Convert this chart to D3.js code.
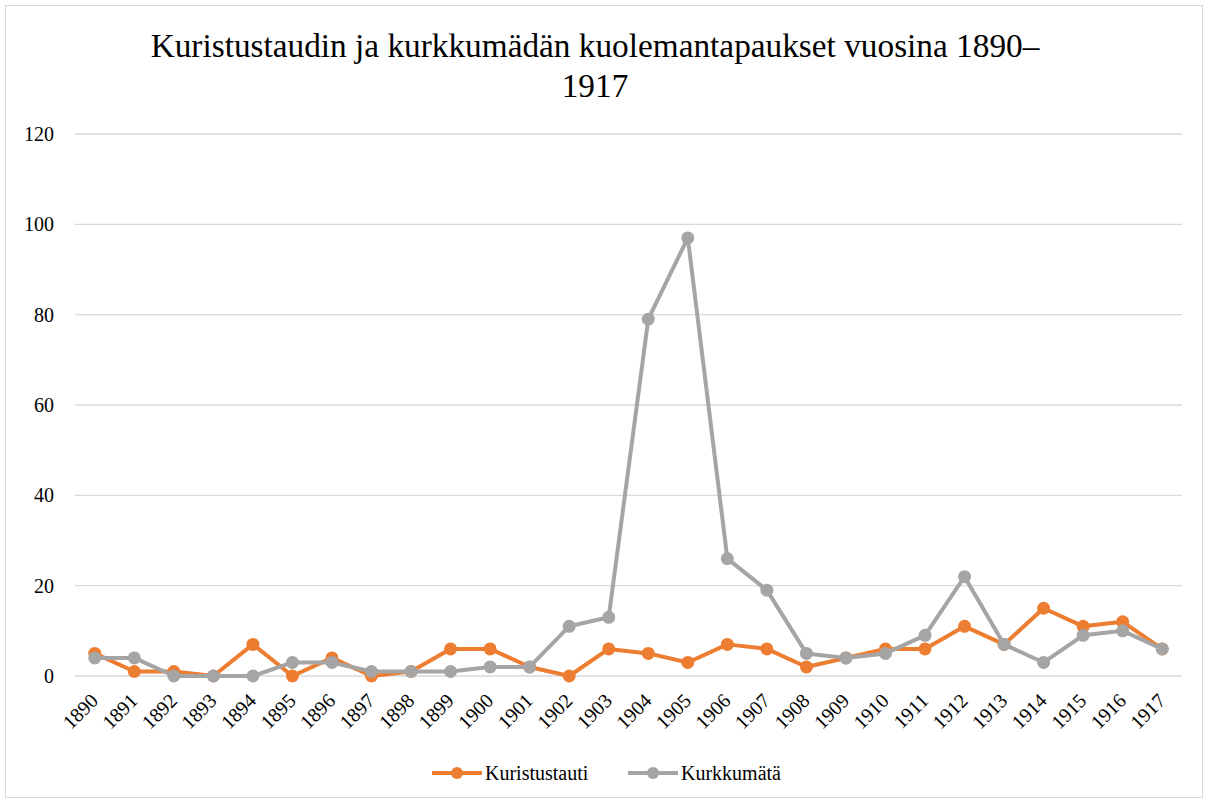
<!DOCTYPE html>
<html>
<head>
<meta charset="utf-8">
<script src="https://cdn.jsdelivr.net/npm/d3@7"></script>
<style>
  body { margin: 0; background: #fff; }
</style>
</head>
<body>
<div id="chart"></div>
<script>
// data
const years = d3.range(1890, 1918).map(String);
const kuristustauti = [5, 1, 1, 0, 7, 0, 4, 0, 1, 6, 6, 2, 0, 6, 5, 3, 7, 6, 2, 4, 6, 6, 11, 7, 15, 11, 12, 6];
const kurkkumata = [4, 4, 0, 0, 0, 3, 3, 1, 1, 1, 2, 2, 11, 13, 79, 97, 26, 19, 5, 4, 5, 9, 22, 7, 3, 9, 10, 6];
const yTicks = [0, 20, 40, 60, 80, 100, 120];

const series = [
  { name: 'Kuristustauti', values: kuristustauti, colour: '#ED7D31' },
  { name: 'Kurkkumätä', values: kurkkumata, colour: '#A5A5A5' }
];

const FONT = 'Liberation Serif';
const width = 1208, height = 803;
const margin = { left: 75, right: 26, top: 134, bottom: 127 };

const svg = d3.select('#chart').append('svg')
  .attr('width', width)
  .attr('height', height)
  .attr('font-family', FONT);

// chart border
svg.append('rect')
  .attr('x', 5.5).attr('y', 5.5)
  .attr('width', width - 11).attr('height', height - 11)
  .attr('fill', 'none')
  .attr('stroke', '#d9d9d9');

// title
const title = ['Kuristustaudin ja kurkkumädän kuolemantapaukset vuosina 1890–', '1917'];
svg.append('g').selectAll('text')
  .data(title)
  .enter().append('text')
    .attr('x', 595)
    .attr('y', (d, i) => 57 + i * 40)
    .attr('text-anchor', 'middle')
    .attr('font-family', FONT)
    .attr('font-size', 33.3)
    .text(d => d);

const x = d3.scalePoint()
  .domain(years)
  .range([margin.left, width - margin.right])
  .padding(0.5);

const y = d3.scaleLinear()
  .domain([0, 120])
  .range([height - margin.bottom, margin.top]);

// grid
svg.append('g')
  .selectAll('line')
  .data(yTicks)
  .enter().append('line')
    .attr('x1', margin.left).attr('x2', width - margin.right)
    .attr('y1', d => y(d)).attr('y2', d => y(d))
    .attr('stroke', '#d9d9d9')
    .attr('stroke-width', 1.3);

// y labels
const yAxis = svg.append('g')
  .attr('transform', `translate(${margin.left - 21},0)`)
  .call(d3.axisLeft(y).tickValues(yTicks).tickSize(0).tickPadding(0));
yAxis.attr('font-family', FONT).attr('font-size', 20);
yAxis.select('.domain').remove();
yAxis.selectAll('text').attr('fill', '#000');

// x labels
const xAxis = svg.append('g')
  .attr('transform', `translate(0,${y(0)})`)
  .call(d3.axisBottom(x).tickSize(0).tickPadding(0));
xAxis.attr('font-family', FONT).attr('font-size', 20);
xAxis.select('.domain').remove();
xAxis.selectAll('text')
  .attr('fill', '#000')
  .attr('text-anchor', 'end')
  .attr('y', 0)
  .attr('dy', null)
  .attr('transform', 'translate(4,26) rotate(-45)');

const line = d3.line()
  .x((d, i) => x(years[i]))
  .y(d => y(d));

series.forEach(s => {
  svg.append('path')
    .datum(s.values)
    .attr('d', line)
    .attr('fill', 'none')
    .attr('stroke', s.colour)
    .attr('stroke-width', 4)
    .attr('stroke-linejoin', 'round');
  svg.append('g').selectAll('circle')
    .data(s.values)
    .enter().append('circle')
      .attr('cx', (d, i) => x(years[i]))
      .attr('cy', d => y(d))
      .attr('r', 6.5)
      .attr('fill', s.colour);
});

// legend
const legend = svg.append('g').attr('transform', 'translate(0,773)');
const legendX = [432, 628];
series.forEach((s, i) => {
  const g = legend.append('g').attr('transform', `translate(${legendX[i]},0)`);
  g.append('line')
    .attr('x1', 0).attr('x2', 50)
    .attr('stroke', s.colour).attr('stroke-width', 4);
  g.append('circle').attr('cx', 25).attr('r', 6).attr('fill', s.colour);
  g.append('text')
    .attr('x', 53).attr('y', 7)
    .attr('font-family', FONT)
    .attr('font-size', 20)
    .text(s.name);
});
</script>
</body>
</html>
